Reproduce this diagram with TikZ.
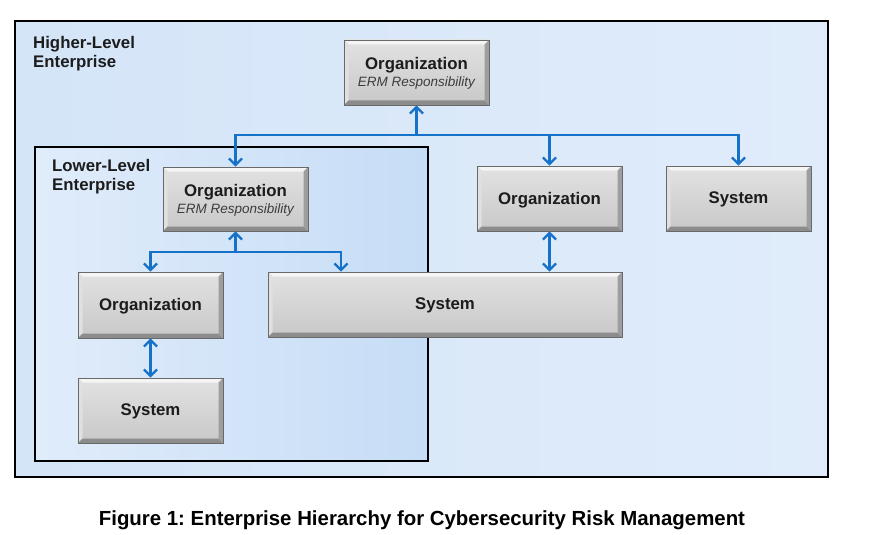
\documentclass[tikz,border=0pt]{standalone}
\usepackage{fontspec}
\setmainfont{Liberation Sans}
\usetikzlibrary{arrows.meta,calc}
\frenchspacing
\definecolor{conncol}{RGB}{22,114,200}
\definecolor{boxtop}{RGB}{226,226,226}
\definecolor{boxbot}{RGB}{200,200,200}
\definecolor{boxline}{RGB}{105,105,105}
\definecolor{txtcol}{RGB}{28,28,28}
\definecolor{ermcol}{RGB}{60,60,60}
\definecolor{bgA}{RGB}{212,229,248}
\definecolor{bgB}{RGB}{186,213,244}
\definecolor{bgC}{RGB}{224,236,250}
\definecolor{inA}{RGB}{224,236,250}
\definecolor{inB}{RGB}{198,221,246}
\tikzset{
  boxnode/.style={draw=boxline, line width=0.9pt, top color=boxtop, bottom color=boxbot,
    inner sep=0pt, align=center, text=txtcol, text depth=1pt,
    font=\fontsize{16.8}{19}\selectfont\bfseries,
    path picture={
      \coordinate (pNW) at (path picture bounding box.north west);
      \coordinate (pNE) at (path picture bounding box.north east);
      \coordinate (pSW) at (path picture bounding box.south west);
      \coordinate (pSE) at (path picture bounding box.south east);
      \fill[white!96!black] (pNW) -- (pNE) -- ($(pNE)+(-4.5pt,-4.5pt)$) -- ($(pNW)+(4.5pt,-4.5pt)$) -- cycle;
      \fill[white!88!black] (pNW) -- ($(pNW)+(4.5pt,-4.5pt)$) -- ($(pSW)+(4.5pt,4.5pt)$) -- (pSW) -- cycle;
      \fill[black!45] (pSW) -- (pSE) -- ($(pSE)+(-4.5pt,4.5pt)$) -- ($(pSW)+(4.5pt,4.5pt)$) -- cycle;
      \fill[black!38] (pNE) -- (pSE) -- ($(pSE)+(-4.5pt,4.5pt)$) -- ($(pNE)+(-4.5pt,-4.5pt)$) -- cycle;
    }},
  conn/.style={draw=conncol, line width=2.3pt,
    arrows={-}, >={Straight Barb[length=6.5pt,width=13pt]}},
  lvl/.style={anchor=north west, inner sep=0pt, align=left, text=txtcol,
    font=\fontsize{16.8}{19}\selectfont\bfseries},
  frame/.style={draw=black, line width=1.6pt}
}
\newcommand{\ermline}{{\fontsize{13.5}{16}\selectfont\mdseries\itshape\color{ermcol}ERM Responsibility}}
\begin{document}
\begin{tikzpicture}[x=1pt,y=-1pt]
\useasboundingbox[fill=white] (0,0) rectangle (879,535);

% outer enterprise
\shade[left color=bgA, middle color=bgB, right color=bgC] (15,21) rectangle (828,477);
\draw[frame] (15,21) rectangle (828,477);
% inner enterprise
\shade[left color=inA, right color=inB] (35,147) rectangle (428,461);
\draw[frame] (35,147) rectangle (428,461);

\node[lvl] (hl) at (33,36) {Higher-Level\\Enterprise};
\node[lvl] (ll) at (52,159) {Lower-Level\\Enterprise};

% boxes
\node[boxnode, minimum width=145pt, minimum height=65pt] (torg) at (416.5,72.5)
  {Organization\\[-2pt]\ermline};
\node[boxnode, minimum width=145pt, minimum height=64pt] (lorg) at (235.5,199)
  {Organization\\[-2pt]\ermline};
\node[boxnode, minimum width=145pt, minimum height=65pt] (morg) at (549.5,198.5) {Organization};
\node[boxnode, minimum width=145pt, minimum height=65pt] (rsys) at (738.5,198.5) {System};
\node[boxnode, minimum width=145pt, minimum height=66pt] (org3) at (150.5,305) {Organization};
\node[boxnode, minimum width=354pt, minimum height=65pt] (bsys) at (445,304.5) {System};
\node[boxnode, minimum width=145pt, minimum height=65pt] (sys3) at (150.5,410.5) {System};

% connectors, top level
\coordinate (bus) at (416.5,135);
\draw[conn,<->] (rsys.north) -- (rsys.north |- bus) -- (lorg.north |- bus) -- (lorg.north);
\draw[conn,->] (bus) -- (torg.south);
\draw[conn,->] (morg.north |- bus) -- (morg.north);
\draw[conn,<->] (morg.south) -- (morg.south |- bsys.north);

% connectors, lower level
\coordinate (bus2) at (235.5,252);
\coordinate (b2r) at (341,252);
\draw[conn,<->] (org3.north) -- (org3.north |- bus2) -- (b2r) -- (b2r |- bsys.north);
\draw[conn,->] (bus2) -- (lorg.south);
\draw[conn,<->] (org3.south) -- (sys3.north);

% caption
\node[font=\fontsize{20.4}{24}\selectfont\bfseries, text=black, anchor=base] (cap) at (422,525)
  {Figure 1: Enterprise Hierarchy for Cybersecurity Risk Management};
\end{tikzpicture}
\end{document}
